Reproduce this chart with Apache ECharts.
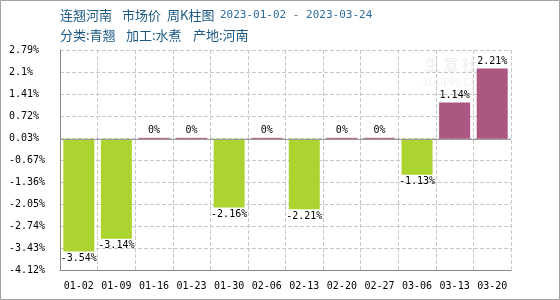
<!DOCTYPE html>
<html><head><meta charset="utf-8">
<script src="https://cdn.jsdelivr.net/npm/echarts@6/dist/echarts.min.js"></script>
<style>html,body{margin:0;padding:0;background:#fff}#c{width:560px;height:300px}</style>
</head><body><div id="c"></div>
<script>
var categories = ['01-02','01-09','01-16','01-23','01-30','02-06','02-13','02-20','02-27','03-06','03-13','03-20'];
var values = [-3.54,-3.14,0,0,-2.16,0,-2.21,0,0,-1.13,1.14,2.21];
var yTickLabels = ['-4.12','-3.43','-2.74','-2.05','-1.36','-0.67','0.03','0.72','1.41','2.1','2.79'];
var yMin = -4.12, yMax = 2.79;
var titleWords = ['连翘河南','市场价','周K柱图'];
var titleDate = '2023-01-02 - 2023-03-24';
var subtitleWords = ['分类:青翘','加工:水煮','产地:河南'];

var interval = (yMax - yMin) / (yTickLabels.length - 1);
var mono = 'DejaVu Sans Mono';
var cjk = '13px "Noto Sans CJK SC"';
var titleX = [60,122,167];
var subX = [60,126,193];
var graphics = [
  {type:'rect',shape:{x:0.5,y:0.5,width:559,height:299},style:{fill:'none',stroke:'#a0a0a0',lineWidth:1},z:100},
  {type:'text',x:220,y:15,style:{text:titleDate,fill:'#2d6c9b',font:'11px "DejaVu Sans Mono"',textVerticalAlign:'middle'}},
  {type:'text',x:425,y:57,style:{text:'生 意 社',fill:'#f2f2f2',font:'bold 15px "Noto Sans CJK SC"'},z:0},
  {type:'text',x:422,y:78,style:{text:'100PPI.COM',fill:'#f2f2f2',font:'11px "DejaVu Sans"'},z:0}
];
titleWords.forEach(function(t,i){graphics.push({type:'text',x:titleX[i],y:15,style:{text:t,fill:'#1c5a85',font:cjk,textVerticalAlign:'middle'}});});
subtitleWords.forEach(function(t,i){graphics.push({type:'text',x:subX[i],y:35,style:{text:t,fill:'#1c5a85',font:cjk,textVerticalAlign:'middle'}});});

var chart = echarts.init(document.getElementById('c'), null, {renderer:'canvas'});
chart.setOption({
  animation:false,
  grid:{left:60,right:49,top:50,bottom:30},
  graphic:graphics,
  xAxis:{type:'category',data:categories,
    axisLine:{onZero:false,lineStyle:{color:'#888',width:1}},
    axisTick:{show:false},
    axisLabel:{color:'#000',fontFamily:mono,fontSize:10,margin:11,interval:0},
    splitLine:{show:true,interval:0,lineStyle:{color:'#c8c8c8',type:'dashed'}}
  },
  yAxis:{type:'value',min:yMin,max:yMax,interval:interval,
    axisLine:{show:true,lineStyle:{color:'#888',width:1}},
    axisTick:{show:false},
    axisLabel:{color:'#000',fontFamily:mono,fontSize:10,margin:51,align:'left',
      formatter:function(v){var i=Math.round((v-yMin)/interval);return (yTickLabels[i]!==undefined?yTickLabels[i]:v.toFixed(2))+'%';}},
    splitLine:{show:true,lineStyle:{color:'#c8c8c8',type:'dashed'}}
  },
  series:[{type:'bar',barWidth:31,barMinHeight:1,
    data:values.map(function(v){return {value:v,
      itemStyle:{color:v<0?'#acd431':'#ab5782'},
      label:{position:v<0?'bottom':'top'}};}),
    label:{show:true,color:'#000',fontFamily:mono,fontSize:10,distance:2,formatter:function(p){return p.value+'%';}},
    markLine:{silent:true,symbol:'none',label:{show:false},lineStyle:{color:'#999',type:'solid',width:1},data:[{yAxis:0}]}
  }]
});
</script></body></html>
